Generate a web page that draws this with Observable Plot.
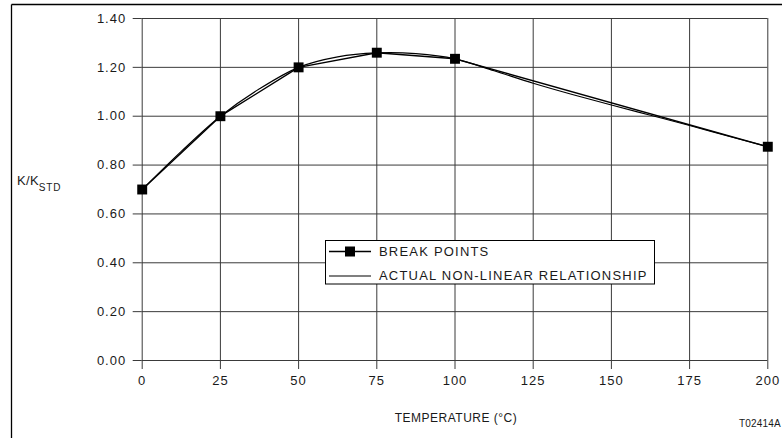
<!DOCTYPE html>
<html>
<head>
<meta charset="utf-8">
<script src="https://cdn.jsdelivr.net/npm/d3@7"></script>
<script src="https://cdn.jsdelivr.net/npm/@observablehq/plot@0.6"></script>
<style>
  html, body { margin: 0; padding: 0; background: #fff; overflow: hidden; }
  #chart { width: 782px; height: 438px; }
</style>
</head>
<body>
<div id="chart"></div>
<script>
// Break points (temperature °C, K/Kstd)
const breakTemps = [0, 25, 50, 75, 100, 200];
const breakK = [0.70, 1.00, 1.20, 1.26, 1.235, 0.875];

// Actual non-linear relationship
const curveTemps = [0, 12.5, 25, 37.5, 50, 62.5, 75, 87.5, 100, 112.5, 125, 137.5, 150, 162.5, 175, 187.5, 200];
const curveK = [0.70, 0.856, 1.00, 1.112, 1.20, 1.243, 1.259, 1.256, 1.235, 1.186, 1.135, 1.089, 1.046, 1.004, 0.962, 0.918, 0.875];

// Tick labels
const xTicks = [0, 25, 50, 75, 100, 125, 150, 175, 200];
const yTicks = [0, 0.2, 0.4, 0.6, 0.8, 1.0, 1.2, 1.4];

const legendLabels = ["BREAK POINTS", "ACTUAL NON-LINEAR RELATIONSHIP"];
const xTitle = "TEMPERATURE (°C)";
const yTitleMain = "K/K";
const yTitleSub = "STD";
const figureId = "T02414A";

const breakData = breakTemps.map((t, i) => ({t, k: breakK[i]}));
const curveData = curveTemps.map((t, i) => ({t, k: curveK[i]}));

const gridColor = "#3a3a3a";

const chart = Plot.plot({
  width: 782,
  height: 438,
  marginLeft: 141.7,
  marginRight: 14.7,
  marginTop: 18,
  marginBottom: 78,
  style: {
    fontFamily: "'Liberation Sans', Arial, Helvetica, sans-serif",
    fontSize: "13px",
    color: "#1a1a1a",
    background: "#fff",
    letterSpacing: "1px"
  },
  x: {domain: [0, 200]},
  y: {domain: [0, 1.4]},
  marks: [
    Plot.gridX(xTicks, {stroke: gridColor, strokeOpacity: 1, strokeWidth: 1}),
    Plot.gridY(yTicks, {stroke: gridColor, strokeOpacity: 1, strokeWidth: 1}),
    Plot.axisX(xTicks, {tickSize: 9, tickPadding: 6, label: null, stroke: gridColor, fontSize: 13}),
    Plot.axisY(yTicks, {tickSize: 9, tickPadding: 7, label: null, stroke: gridColor, fontSize: 13, tickFormat: d => d.toFixed(2)}),
    Plot.line(curveData, {x: "t", y: "k", curve: "catmull-rom", stroke: "#000", strokeWidth: 1.2}),
    Plot.line(breakData, {x: "t", y: "k", stroke: "#000", strokeWidth: 1.4}),
    Plot.dot(breakData, {x: "t", y: "k", symbol: "square", r: 5.6, fill: "#000", stroke: "none"})
  ]
});

document.getElementById("chart").appendChild(chart);

const svg = d3.select(chart);
const font = "'Liberation Sans', Arial, Helvetica, sans-serif";

// Outer figure frame (left and top rules)
svg.append("line").attr("x1", 11.5).attr("x2", 11.5).attr("y1", 4.5).attr("y2", 438)
  .attr("stroke", "#000").attr("stroke-width", 1.3);
svg.append("line").attr("x1", 11.5).attr("x2", 782).attr("y1", 4.5).attr("y2", 4.5)
  .attr("stroke", "#000").attr("stroke-width", 1.3);

// Y title with subscript
const yt = svg.append("text")
  .attr("x", 17).attr("y", 185)
  .attr("text-anchor", "start")
  .attr("font-family", font).attr("font-size", 13).attr("fill", "#1a1a1a")
  .style("letter-spacing", "0.3px");
yt.append("tspan").text(yTitleMain);
yt.append("tspan").attr("dy", 5.5).attr("font-size", 10).style("letter-spacing", "0.8px").text(yTitleSub);

// X title
svg.append("text")
  .attr("x", 456).attr("y", 421.5)
  .attr("text-anchor", "middle")
  .attr("font-family", font).attr("font-size", 12).attr("fill", "#1a1a1a")
  .style("letter-spacing", "0.5px")
  .text(xTitle);

// Figure id
svg.append("text")
  .attr("x", 781).attr("y", 427)
  .attr("text-anchor", "end")
  .attr("font-family", font).attr("font-size", 10).attr("fill", "#1a1a1a")
  .style("letter-spacing", "0.2px")
  .text(figureId);

// Legend
const lg = svg.append("g").attr("text-anchor", "start");
lg.append("rect").attr("x", 325.5).attr("y", 240.5).attr("width", 329).attr("height", 43.5)
  .attr("fill", "#fff").attr("stroke", "#000").attr("stroke-width", 1);
lg.append("line").attr("x1", 329).attr("x2", 371).attr("y1", 251.5).attr("y2", 251.5)
  .attr("stroke", "#000").attr("stroke-width", 1.4);
lg.append("rect").attr("x", 345).attr("y", 246.5).attr("width", 10).attr("height", 10).attr("fill", "#000");
lg.append("line").attr("x1", 329).attr("x2", 371).attr("y1", 276).attr("y2", 276)
  .attr("stroke", "#000").attr("stroke-width", 1.2);
lg.append("text").attr("x", 379).attr("y", 256.3).attr("text-anchor", "start")
  .attr("font-family", font).attr("font-size", 13).attr("fill", "#1a1a1a")
  .style("letter-spacing", "1.2px").text(legendLabels[0]);
lg.append("text").attr("x", 379).attr("y", 280.3).attr("text-anchor", "start")
  .attr("font-family", font).attr("font-size", 13).attr("fill", "#1a1a1a")
  .style("letter-spacing", "1.2px").text(legendLabels[1]);
</script>
</body>
</html>
